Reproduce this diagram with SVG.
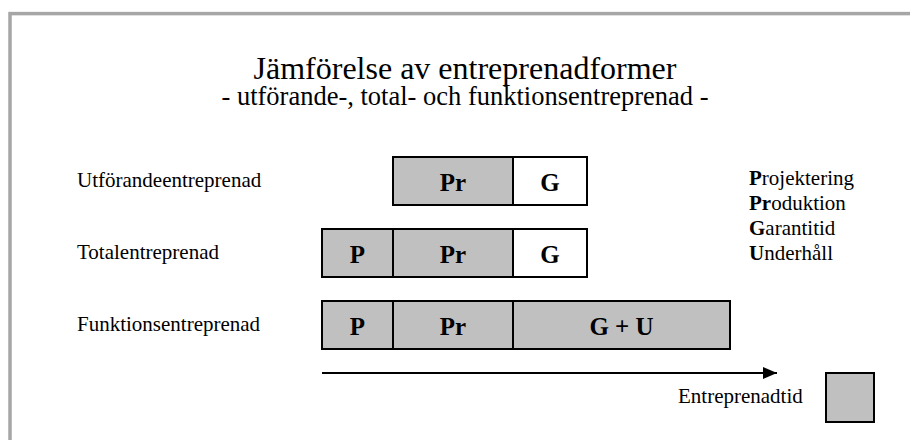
<svg xmlns="http://www.w3.org/2000/svg" width="910" height="440" viewBox="0 0 910 440">
<defs>
<style>
text{font-family:"Liberation Serif","Times New Roman",serif;fill:#000}
.lbl{font-size:21px}
.box{stroke:#000;stroke-width:2}
.g{fill:#c0c0c0}
.w{fill:#fff}
.bt{font-size:25px;font-weight:bold;text-anchor:middle}
</style>
<marker id="ah" markerWidth="14" markerHeight="12" refX="14" refY="6" orient="auto" markerUnits="userSpaceOnUse">
<path d="M0,0 L14,6 L0,12 Z" fill="#000"/>
</marker>
</defs>
<rect x="0" y="0" width="910" height="440" fill="#fff"/>
<rect x="10" y="13.6" width="920" height="440" fill="none" stroke="#a6a6a6" stroke-width="3.5"/>
<g id="title">
<text x="465" y="79" font-size="32" text-anchor="middle">Jämförelse av entreprenadformer</text>
<text x="465" y="105" font-size="26.5" text-anchor="middle">- utförande-, total- och funktionsentreprenad -</text>
</g>
<g id="labels">
<text class="lbl" x="77" y="187">Utförandeentreprenad</text>
<text class="lbl" x="77" y="259">Totalentreprenad</text>
<text class="lbl" x="77" y="331">Funktionsentreprenad</text>
</g>
<g id="row1">
<rect class="box g" x="393" y="157" width="120" height="48"/>
<text class="bt" x="453" y="191">Pr</text>
<rect class="box w" x="513" y="157" width="74" height="48"/>
<text class="bt" x="550" y="191">G</text>
</g>
<g id="row2">
<rect class="box g" x="322" y="229" width="71" height="48"/>
<text class="bt" x="357.5" y="263">P</text>
<rect class="box g" x="393" y="229" width="120" height="48"/>
<text class="bt" x="453" y="263">Pr</text>
<rect class="box w" x="513" y="229" width="74" height="48"/>
<text class="bt" x="550" y="263">G</text>
</g>
<g id="row3">
<rect class="box g" x="322" y="301" width="71" height="48"/>
<text class="bt" x="357.5" y="335">P</text>
<rect class="box g" x="393" y="301" width="120" height="48"/>
<text class="bt" x="453" y="335">Pr</text>
<rect class="box g" x="513" y="301" width="217" height="48"/>
<text class="bt" x="621.5" y="335">G + U</text>
</g>
<g id="legend">
<text class="lbl" x="749" y="185"><tspan font-weight="bold">P</tspan>rojektering</text>
<text class="lbl" x="749" y="210"><tspan font-weight="bold">Pr</tspan>oduktion</text>
<text class="lbl" x="749" y="235"><tspan font-weight="bold">G</tspan>arantitid</text>
<text class="lbl" x="749" y="260"><tspan font-weight="bold">U</tspan>nderhåll</text>
</g>
<g id="connectors">
<line x1="322" y1="373" x2="777" y2="373" stroke="#000" stroke-width="2" marker-end="url(#ah)"/>
</g>
<g id="time-legend">
<text class="lbl" x="678" y="403">Entreprenadtid</text>
<rect class="box g" x="826" y="373" width="48" height="49"/>
</g>
</svg>
